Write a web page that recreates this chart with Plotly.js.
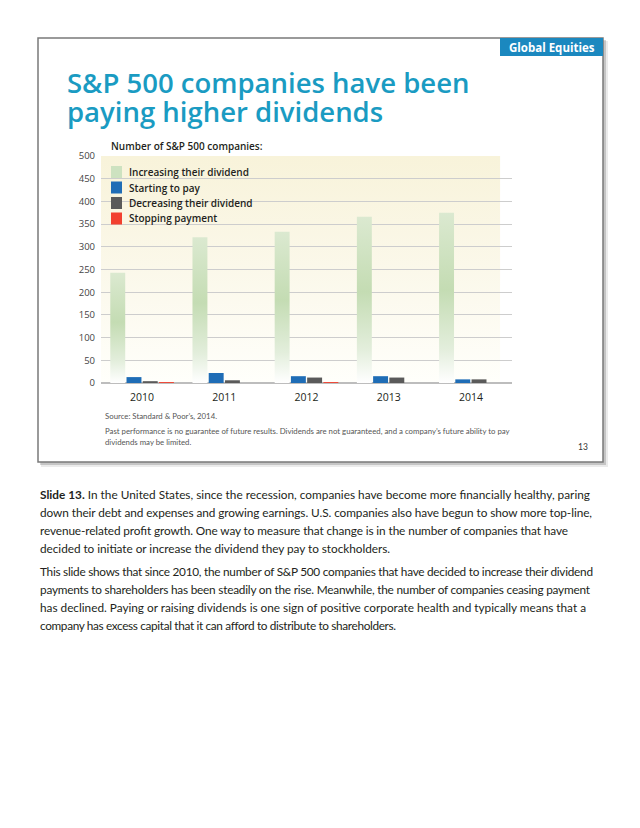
<!DOCTYPE html>
<html>
<head>
<meta charset="utf-8">
<script src="https://cdn.plot.ly/plotly-3.0.1.min.js"></script>
<style>
  html, body { margin: 0; padding: 0; background: #ffffff; }
  #chart { width: 640px; height: 828px; }
</style>
</head>
<body>
<div id="chart"></div>
<script>
// ---- Data ----
const years = ['2010', '2011', '2012', '2013', '2014'];
const increasing = [243, 321, 333, 366, 375];
const starting = [13, 22, 15, 15, 8];
const decreasing = [4, 6, 12, 12, 8];
const stopping = [2, 0, 2, 0, 0];
const seriesNames = ['Increasing their dividend', 'Starting to pay', 'Decreasing their dividend', 'Stopping payment'];
const seriesColors = ['rgb(205, 226, 192)', '#1f6db6', '#5a5a5a', '#f2402f'];
const yTicks = [0, 50, 100, 150, 200, 250, 300, 350, 400, 450, 500];

const W = 640, H = 828;
const px = x => x / W;
const py = y => 1 - y / H;

const chartFont = 'Open Sans, Lato, sans-serif';
const bodyFont = 'Lato, Open Sans, sans-serif';
const CREAM = 'rgb(249, 245, 226)';

const seriesValues = [increasing, starting, decreasing, stopping];
const traces = seriesValues.map((vals, i) => ({
  type: 'bar', name: seriesNames[i], x: years, y: vals,
  marker: { color: seriesColors[i] }, showlegend: false
}));

const ann = [];
const fitWidths = {};
function addText(text, x, y, size, opts, fitW) {
  if (fitW) fitWidths[ann.length] = fitW;
  ann.push(Object.assign({
    text: text, xref: 'paper', yref: 'paper', x: px(x), y: py(y),
    xanchor: 'left', yanchor: 'middle', align: 'left', showarrow: false,
    font: { family: bodyFont, size: size, color: '#231f20' }
  }, opts || {}));
}

// Header
addText('Global Equities', 552, 47, 11.5, { xanchor: 'center', align: 'center', font: { family: chartFont, size: 11.5, color: '#ffffff', weight: 700 } });
addText('S&P 500 companies have been', 65, 82, 27.5, { font: { family: chartFont, size: 27.5, color: '#1a9bc2', weight: 600 } });
addText('paying higher dividends', 65, 112, 27.5, { font: { family: chartFont, size: 27.5, color: '#1a9bc2', weight: 600 } });
addText('Number of S&P 500 companies:', 109, 146, 10, { font: { family: chartFont, size: 10, color: '#231f20', weight: 600 } });

// Manual legend (labels)
const legendRows = [172, 187.5, 203, 218.5];
seriesNames.forEach((n, i) => addText(n, 127, legendRows[i], 10, { font: { family: chartFont, size: 10, color: '#231f20', weight: 600 } }));

// Footnotes
addText('Source: Standard &amp; Poor\u2019s, 2014.', 103, 416, 7.8, { font: { family: bodyFont, size: 7.8, color: '#555555' } });
addText('Past performance is no guarantee of future results. Dividends are not guaranteed, and a company\u2019s future ability to pay', 103, 431, 7.8, { font: { family: bodyFont, size: 7.8, color: '#555555' } });
addText('dividends may be limited.', 103, 442, 7.8, { font: { family: bodyFont, size: 7.8, color: '#555555' } });
addText('13', 590, 447, 8.5, { xanchor: 'right', align: 'right', font: { family: bodyFont, size: 8.5, color: '#333333' } });

// Body text
const body = [
  ['<b>Slide 13.</b> In the United States, since the recession, companies have become more financially healthy, paring', 494, 550],
  ['down their debt and expenses and growing earnings. U.S. companies also have begun to show more top-line,', 512, 552],
  ['revenue-related profit growth. One way to measure that change is in the number of companies that have', 530, 528],
  ['decided to initiate or increase the dividend they pay to stockholders.', 548, 350],
  ['This slide shows that since 2010, the number of S&amp;P 500 companies that have decided to increase their dividend', 571, 553],
  ['payments to shareholders has been steadily on the rise. Meanwhile, the number of companies ceasing payment', 589, 550],
  ['has declined. Paying or raising dividends is one sign of positive corporate health and typically means that a', 607, 546],
  ['company has excess capital that it can afford to distribute to shareholders.', 625, 356]
];
body.forEach(b => addText(b[0], 38, b[1], 11.8, { font: { family: bodyFont, size: 11.8, color: '#231f20' } }, b[2]));

const shapes = [
  // soft shadow
  { type: 'rect', xref: 'paper', yref: 'paper', x0: px(41), x1: px(608), y0: py(41), y1: py(467), fillcolor: 'rgba(0,0,0,0.08)', line: { width: 0 }, layer: 'below' },
  { type: 'rect', xref: 'paper', yref: 'paper', x0: px(40), x1: px(606), y0: py(40), y1: py(465), fillcolor: 'rgba(0,0,0,0.16)', line: { width: 0 }, layer: 'below' },
  // slide frame
  { type: 'rect', xref: 'paper', yref: 'paper', x0: px(38), x1: px(603), y0: py(38), y1: py(462), fillcolor: '#ffffff', line: { color: '#7a7a7a', width: 1.5 }, layer: 'below' },
  // label box
  { type: 'rect', xref: 'paper', yref: 'paper', x0: px(500), x1: px(603), y0: py(38), y1: py(56), fillcolor: '#1b88bf', line: { width: 0 }, layer: 'below' },
  // cream plot background
  { type: 'rect', xref: 'x domain', yref: 'y domain', x0: 0, x1: 0.971, y0: 0, y1: 1, fillcolor: CREAM, line: { width: 0 }, layer: 'below' }
];
// legend swatches
legendRows.forEach((r, i) => shapes.push({
  type: 'rect', xref: 'paper', yref: 'paper', x0: px(111), x1: px(122), y0: py(r + 6), y1: py(r - 6),
  fillcolor: seriesColors[i], line: { width: 0 }, layer: 'above'
}));

const layout = {
  width: W, height: H,
  margin: { l: 0, r: 0, t: 0, b: 0 },
  paper_bgcolor: '#ffffff',
  plot_bgcolor: 'rgba(0,0,0,0)',
  barmode: 'group',
  bargap: 0.21,
  bargroupgap: 0.08,
  showlegend: false,
  xaxis: {
    domain: [px(101), px(512)],
    type: 'category',
    showgrid: false, zeroline: false, showline: false,
    ticks: '', ticklabelstandoff: 6,
    tickfont: { family: chartFont, size: 10.5, color: '#231f20' },
    fixedrange: true
  },
  yaxis: {
    domain: [py(383), py(156)],
    range: [0, 500],
    tickvals: yTicks,
    ticktext: yTicks.map(String),
    showgrid: true, gridcolor: '#cdcdcd', gridwidth: 1,
    zeroline: true, zerolinecolor: '#bdbdbd', zerolinewidth: 2,
    showline: false, ticks: '', ticklabelstandoff: 5,
    tickfont: { family: chartFont, size: 9.5, color: '#444444' },
    fixedrange: true
  },
  shapes: shapes,
  annotations: ann
};

Plotly.newPlot('chart', traces, layout, { staticPlot: true, displayModeBar: false }).then(function (gd) {
  const NS = 'http://www.w3.org/2000/svg';
  const svg = gd.querySelector('svg.main-svg');
  let defs = svg.querySelector('defs');
  if (!defs) { defs = document.createElementNS(NS, 'defs'); svg.insertBefore(defs, svg.firstChild); }
  function grad(id, stops) {
    const g = document.createElementNS(NS, 'linearGradient');
    g.setAttribute('id', id);
    g.setAttribute('x1', '0'); g.setAttribute('y1', '0');
    g.setAttribute('x2', '0'); g.setAttribute('y2', '1');
    stops.forEach(s => {
      const st = document.createElementNS(NS, 'stop');
      st.setAttribute('offset', s[0]);
      st.setAttribute('stop-color', s[1]);
      g.appendChild(st);
    });
    defs.appendChild(g);
  }
  grad('greenGrad', [['0', '#dbe9d0'], ['0.45', '#c4dcb3'], ['0.8', '#e3eedc'], ['1', '#ffffff']]);
  grad('creamGrad', [['0', '#f8f3da'], ['0.5', '#fbf8ea'], ['1', '#fffffb']]);
  const barTraces = gd.querySelectorAll('.barlayer .trace');
  if (barTraces.length) {
    barTraces[0].querySelectorAll('path').forEach(p => { p.style.fill = 'url(#greenGrad)'; });
  }
  gd.querySelectorAll('.shapelayer path').forEach(p => {
    if ((p.style.fill || '').replace(/\s/g, '') === CREAM.replace(/\s/g, '')) {
      p.style.fill = 'url(#creamGrad)';
    }
  });
  // fit body lines to the reference line lengths
  gd.querySelectorAll('.annotation').forEach(a => {
    const idx = a.getAttribute('data-index');
    if (fitWidths[idx]) {
      const t = a.querySelector('text.annotation-text');
      if (t) {
        t.setAttribute('textLength', fitWidths[idx]);
        t.setAttribute('lengthAdjust', 'spacing');
      }
    }
  });
});
</script>
</body>
</html>
